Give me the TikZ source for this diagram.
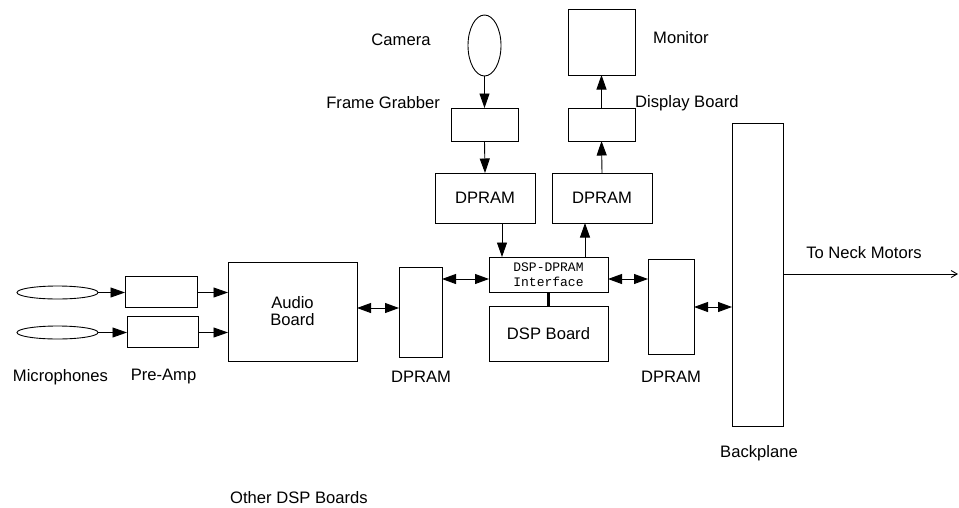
\documentclass[tikz,border=0pt]{standalone}
\usepackage{fontspec}
\setmainfont{Liberation Sans}
\newfontfamily\monofont{Liberation Mono}
\usetikzlibrary{arrows.meta,shapes.geometric}
\begin{document}
\begin{tikzpicture}[x=1pt,y=-1pt,
  box/.style={draw,line width=0.9pt,inner sep=0pt,outer sep=0pt,font=\fontsize{16.6}{17}\selectfont,align=center},
  oval/.style={draw,ellipse,line width=0.9pt,inner sep=0pt,outer sep=0pt},
  lbl/.style={inner sep=0pt,font=\fontsize{16.6}{19}\selectfont},
  arr/.style={line width=0.9pt,-{Triangle[length=14.5pt,width=10pt]}},
  dbl/.style={line width=0.9pt,{Triangle[length=14pt,width=10pt]}-{Triangle[length=14pt,width=10pt]}},
  thin arrow/.style={line width=0.9pt,-{Straight Barb[length=6pt,width=7pt]}}
]
\useasboundingbox (0,0) rectangle (959,507);

% microphones and pre-amps
\node[oval,minimum width=81pt,minimum height=13pt] (mic1) at (57.5,292.5) {};
\node[oval,minimum width=81pt,minimum height=13pt] (mic2) at (57.5,332.5) {};
\node[box,minimum width=72pt,minimum height=31pt] (pre1) at (161,291.5) {};
\node[box,minimum width=71pt,minimum height=31pt] (pre2) at (162.5,331.5) {};
\node[box,minimum width=129pt,minimum height=99pt] (audio) at (292.5,311.5) {Audio\\Board};

% centre
\node[box,minimum width=43pt,minimum height=90pt] (dpramL) at (420.5,312) {};
\node[box,minimum width=119pt,minimum height=35pt,font=\monofont\fontsize{13}{15}\selectfont] (iface) at (548.5,274.5) {DSP-DPRAM\\Interface};
\node[box,minimum width=119pt,minimum height=55pt] (dsp) at (548.5,333.5) {DSP Board};
\node[box,minimum width=46pt,minimum height=95pt] (dpramR) at (671,306.5) {};
\node[box,minimum width=51pt,minimum height=303pt] (back) at (757.5,274.5) {};

% camera chain
\node[oval,minimum width=33pt,minimum height=61pt] (cam) at (484.5,45.5) {};
\node[box,minimum width=67pt,minimum height=33pt] (fg) at (484.5,124.5) {};
\node[box,minimum width=100pt,minimum height=50pt] (dpramUL) at (485,198) {DPRAM};

% monitor chain
\node[box,minimum width=67pt,minimum height=66pt] (mon) at (601.5,42) {};
\node[box,minimum width=67pt,minimum height=33pt] (disp) at (601.5,124.5) {};
\node[box,minimum width=100pt,minimum height=50pt] (dpramUR) at (602,198) {DPRAM};

% helper coordinates
\coordinate (yA) at (0,308);
\coordinate (yB) at (0,279);
\coordinate (yC) at (0,307);
\coordinate (xD) at (502,0);
\coordinate (xU) at (585,0);
\coordinate (neck) at (958,274);

% connectors
\draw[arr] (mic1.east) -- (pre1.west |- mic1.east);
\draw[arr] (mic2.east) -- (pre2.west |- mic2.east);
\draw[arr] (pre1.east |- mic1.east) -- (audio.west |- mic1.east);
\draw[arr] (pre2.east |- mic2.east) -- (audio.west |- mic2.east);
\draw[dbl] (audio.east |- yA) -- (dpramL.west |- yA);
\draw[dbl] (dpramL.east |- yB) -- (iface.west |- yB);
\draw[dbl] (iface.east |- yB) -- (dpramR.west |- yB);
\draw[dbl] (dpramR.east |- yC) -- (back.west |- yC);
\draw[arr] (cam.south) -- (fg.north);
\draw[arr] (fg.south) -- (dpramUL.north);
\draw[arr] (dpramUL.south -| xD) -- (iface.north -| xD);
\draw[arr] (iface.north -| xU) -- (dpramUR.south -| xU);
\draw[arr] (dpramUR.north) -- (disp.south);
\draw[arr] (disp.north) -- (mon.south);
\draw[line width=3pt] (iface.south) -- (dsp.north);
\draw[thin arrow] (back.east |- neck) -- (neck);

% labels
\node[lbl] (lcam) at (401,40) {Camera};
\node[lbl,anchor=east] (lfg) at (440,103) {Frame Grabber};
\node[lbl,anchor=west] (lmon) at (653,38) {Monitor};
\node[lbl,anchor=west] (ldisp) at (635,103) {Display Board};
\node[lbl] (lmic) at (60.5,377) {Microphones};
\node[lbl] (lpre) at (163.5,377) {Pre-Amp};
\node[lbl] (ldL) at (421,377) {DPRAM};
\node[lbl] (ldR) at (671,377) {DPRAM};
\node[lbl] (lback) at (759,453) {Backplane};
\node[lbl] (lneck) at (864,253) {To Neck Motors};
\node[lbl,anchor=west] (lother) at (230,498) {Other DSP Boards};
\end{tikzpicture}
\end{document}
